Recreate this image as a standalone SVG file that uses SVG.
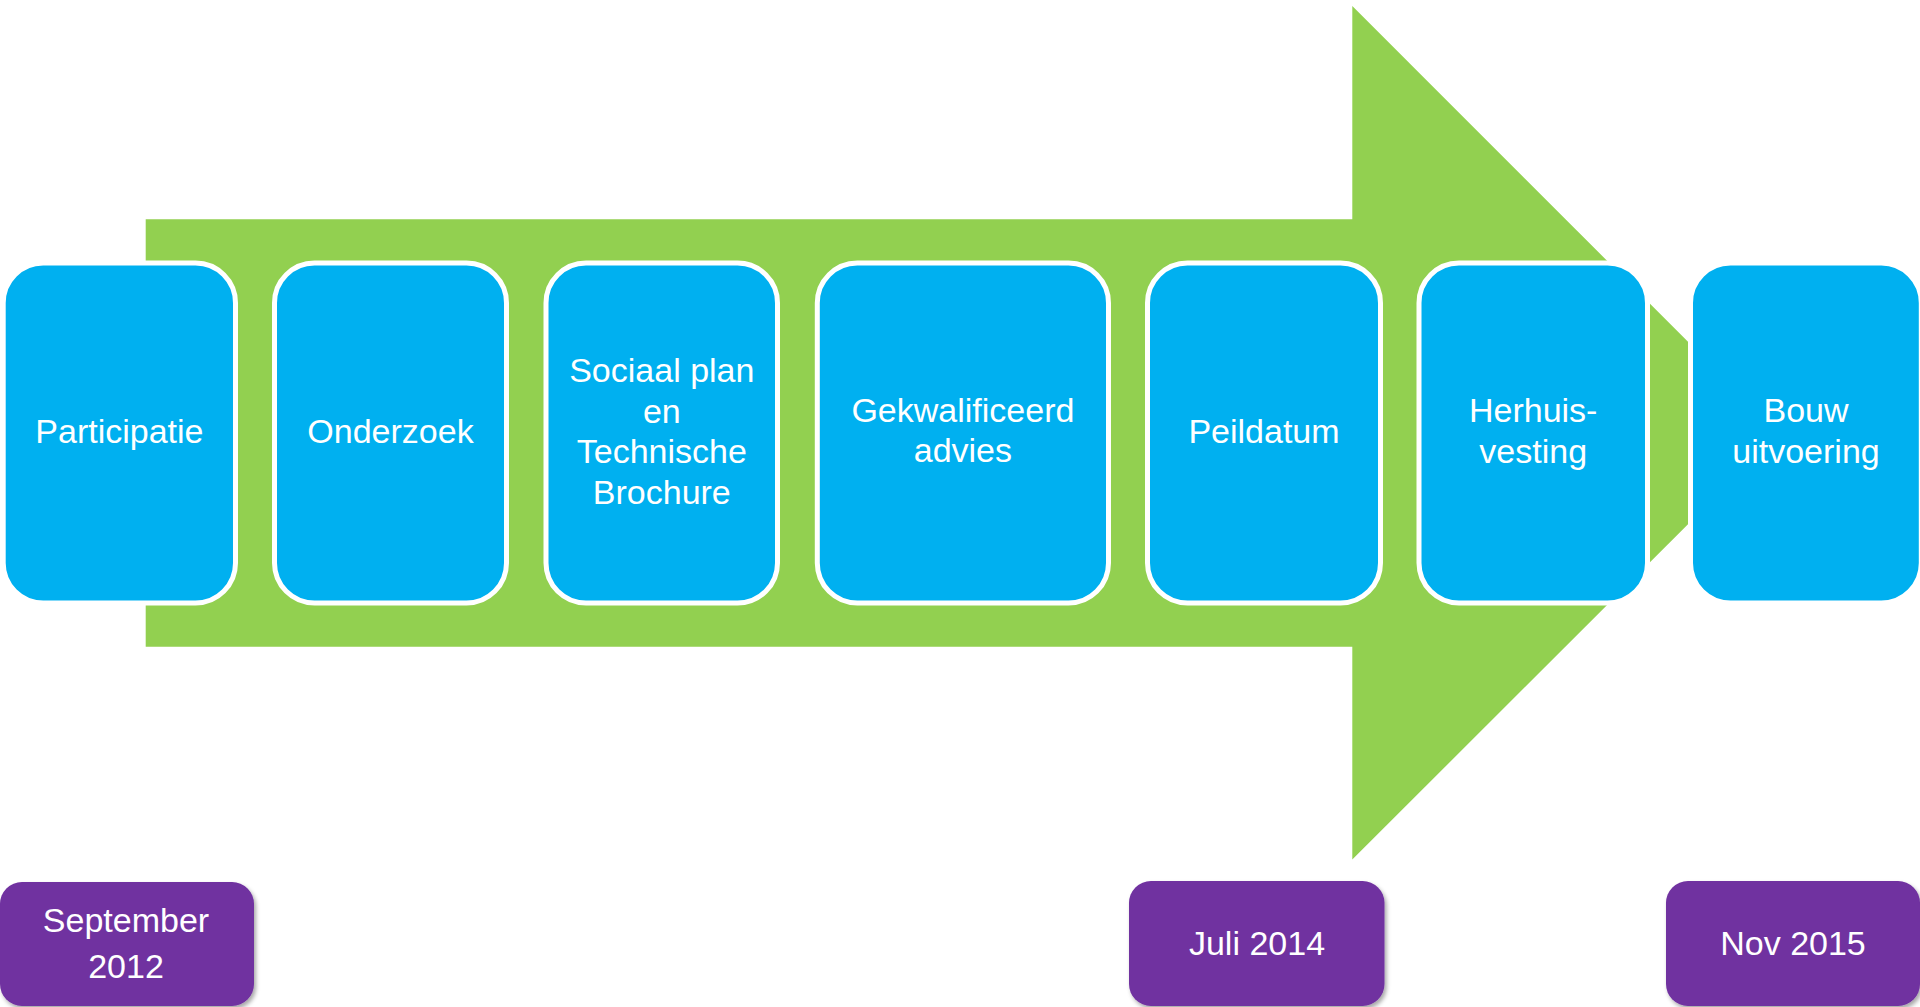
<svg xmlns="http://www.w3.org/2000/svg" width="1920" height="1007" viewBox="0 0 1920 1007">
  <defs>
    <filter id="shadow" x="-10%" y="-10%" width="125%" height="130%">
      <feDropShadow dx="2" dy="3" stdDeviation="2" flood-color="#000000" flood-opacity="0.35"/>
    </filter>
  </defs>
  <style>
    .step { fill: #00B0F0; stroke: #FFFFFF; stroke-width: 5; }
    .date { fill: #7030A0; filter: url(#shadow); }
    .arrow { fill: #92D050; }
    text { font-family: "Liberation Sans", Arial, sans-serif; font-size: 34px; fill: #FFFFFF; text-anchor: middle; }
  </style>
  <rect x="0" y="0" width="1920" height="1007" fill="#FFFFFF"/>

  <g id="timeline-arrow">
    <polygon class="arrow" points="145.7,219.3 1352.3,219.3 1352.3,6 1688,341.7 1688,524.3 1352.3,859.5 1352.3,646.7 145.7,646.7"/>
  </g>

  <g id="node-participatie">
    <rect class="step" x="3.2" y="263" width="232.3" height="340" rx="40" ry="40"/>
    <text x="119.4" y="443">Participatie</text>
  </g>
  <g id="node-onderzoek">
    <rect class="step" x="274.5" y="263" width="232" height="340" rx="40" ry="40"/>
    <text x="390.5" y="443">Onderzoek</text>
  </g>
  <g id="node-sociaal">
    <rect class="step" x="546" y="263" width="231.5" height="340" rx="40" ry="40"/>
    <text x="661.8" y="381.5">Sociaal plan</text>
    <text x="661.8" y="422.5">en</text>
    <text x="661.8" y="463">Technische</text>
    <text x="661.8" y="504">Brochure</text>
  </g>
  <g id="node-gekwalificeerd">
    <rect class="step" x="817.3" y="263" width="291.2" height="340" rx="40" ry="40"/>
    <text x="962.9" y="421.7">Gekwalificeerd</text>
    <text x="962.9" y="462">advies</text>
  </g>
  <g id="node-peildatum">
    <rect class="step" x="1147.5" y="263" width="233" height="340" rx="40" ry="40"/>
    <text x="1264" y="442.5">Peildatum</text>
  </g>
  <g id="node-herhuisvesting">
    <rect class="step" x="1419" y="263" width="228.5" height="340" rx="40" ry="40"/>
    <text x="1533.2" y="421.7">Herhuis-</text>
    <text x="1533.2" y="463">vesting</text>
  </g>
  <g id="node-bouwuitvoering">
    <rect class="step" x="1690.5" y="263" width="230.8" height="340" rx="40" ry="40"/>
    <text x="1806" y="421.7">Bouw</text>
    <text x="1806" y="463">uitvoering</text>
  </g>

  <g id="date-september-2012">
    <rect class="date" x="0" y="882" width="254" height="124" rx="22" ry="22"/>
    <text x="126" y="931.7">September</text>
    <text x="126" y="978.3">2012</text>
  </g>
  <g id="date-juli-2014">
    <rect class="date" x="1129" y="881" width="255.5" height="125" rx="22" ry="22"/>
    <text x="1257" y="955">Juli 2014</text>
  </g>
  <g id="date-nov-2015">
    <rect class="date" x="1666" y="881" width="254" height="125" rx="22" ry="22"/>
    <text x="1793" y="955">Nov 2015</text>
  </g>
</svg>
